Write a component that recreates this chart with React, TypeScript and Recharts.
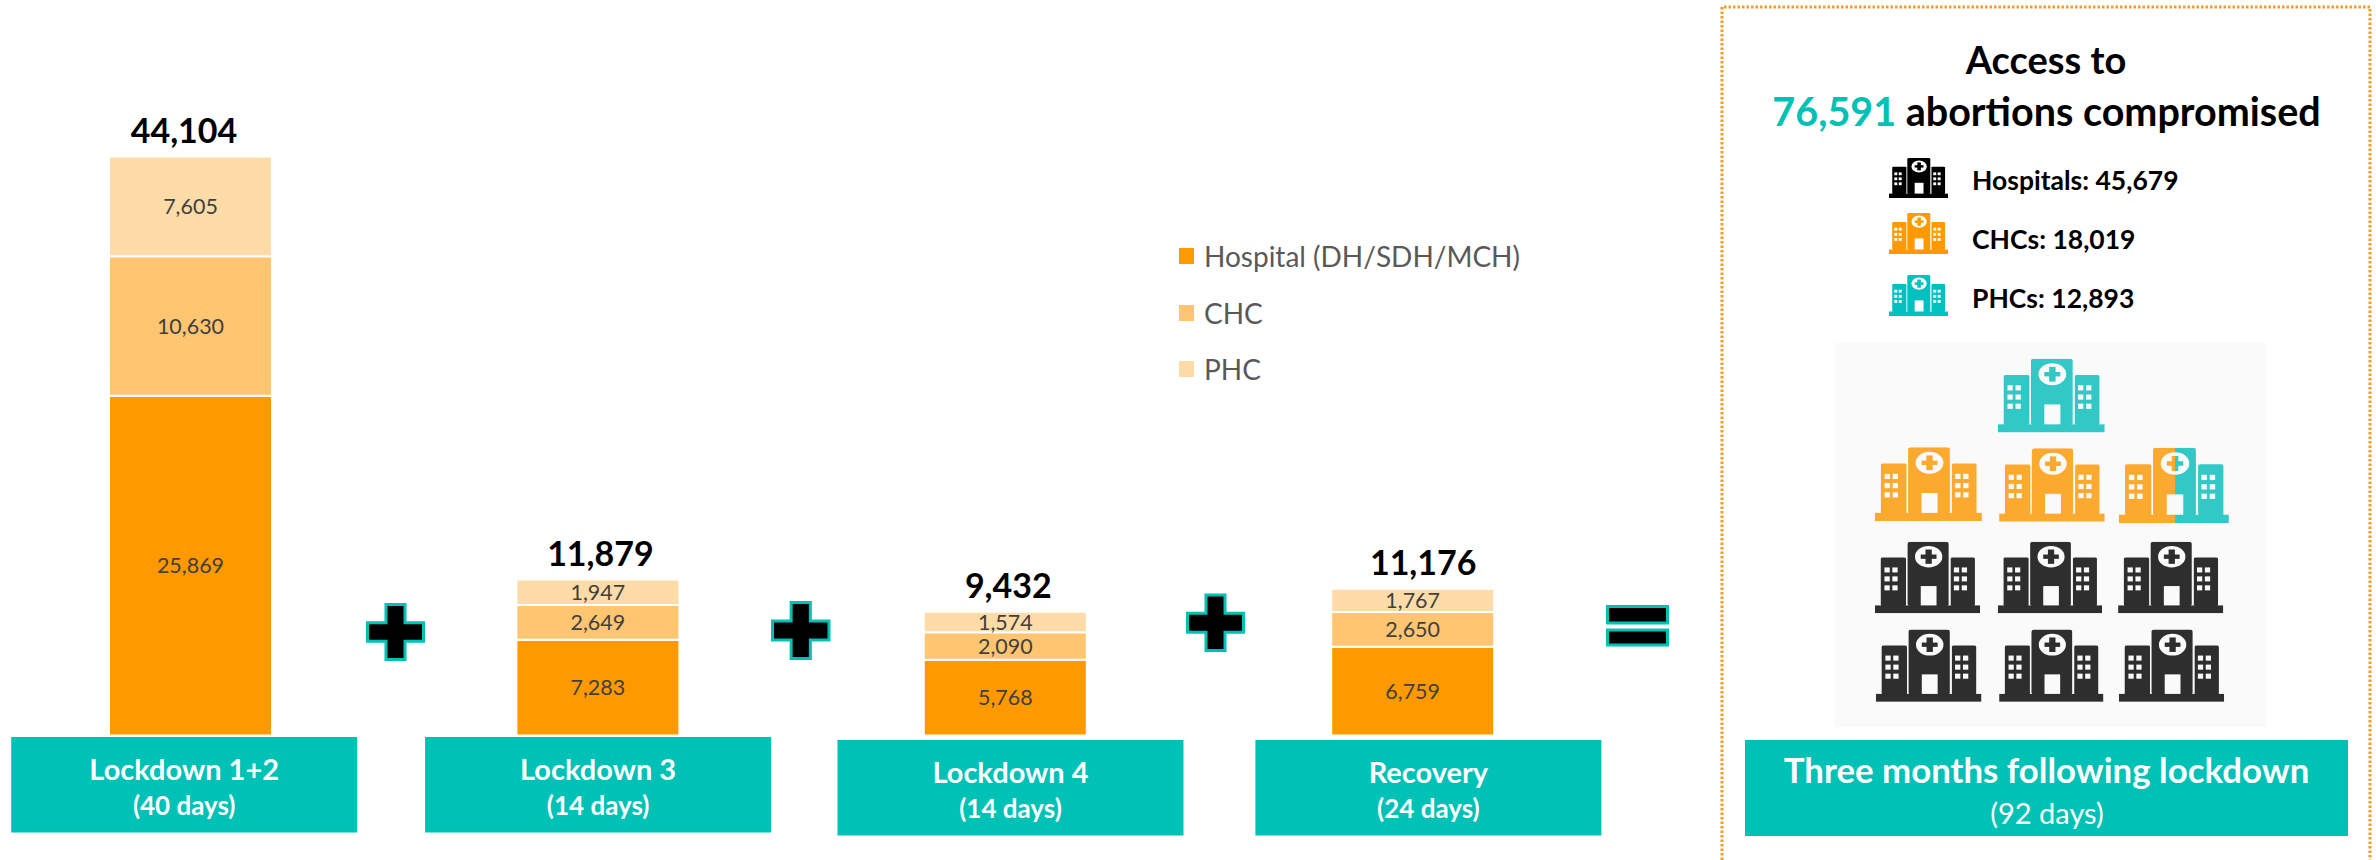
import React from "react";
import { BarChart, Bar, XAxis, YAxis, LabelList, Legend } from "recharts";

const FONT = "Lato, 'Open Sans', sans-serif";

// ---- data ----
const categories = ["Lockdown 1+2", "Lockdown 3", "Lockdown 4", "Recovery"];
const durations = ["(40 days)", "(14 days)", "(14 days)", "(24 days)"];
const hospitalValues = [25869, 7283, 5768, 6759];
const chcValues = [10630, 2649, 2090, 2650];
const phcValues = [7605, 1947, 1574, 1767];
const totals = [44104, 11879, 9432, 11176];
const seriesNames = ["Hospital (DH/SDH/MCH)", "CHC", "PHC"];
const facilityRows = ["Hospitals: 45,679", "CHCs: 18,019", "PHCs: 12,893"];

const chartData = categories.map((name, i) => ({
  name,
  duration: durations[i],
  hospital: hospitalValues[i],
  chc: chcValues[i],
  phc: phcValues[i],
  total: totals[i],
}));

// ---- colours ----
const ORANGE = "#FF9900";
const ORANGE_MID = "#FFC570";
const ORANGE_LIGHT = "#FFDBA8";
const TEAL = "#00C1B5";
const seriesColors = [ORANGE, ORANGE_MID, ORANGE_LIGHT];

// ---- layout ----
const CHART_LEFT = -13.2;
const BAND = 407.4;
const PLOT_BOTTOM = 735.5;
const boxOffsets = [-6.5, 0, 5, 15.5];
const boxTops = [737, 737, 740, 740];
const totalOffsets = [-6.5, 2.5, 3, 10.5];

const fmt = (v: number) => v.toLocaleString("en-US");

function CategoryTick(props: any) {
  const { x, payload, index } = props;
  const cx = x + boxOffsets[index];
  const top = boxTops[index];
  return (
    <g>
      <rect x={cx - 173} y={top} width={346} height={95.5} fill={TEAL} />
      <text x={cx} y={top + 32} textAnchor="middle" dominantBaseline="central" fill="#fff" fontFamily={FONT} fontWeight={700} fontSize={29}>
        {payload.value}
      </text>
      <text x={cx} y={top + 68} textAnchor="middle" dominantBaseline="central" fill="#fff" fontFamily={FONT} fontWeight={700} fontSize={26}>
        {durations[index]}
      </text>
    </g>
  );
}

function TotalLabel(props: any) {
  const { x, y, width, value, index } = props;
  return (
    <text x={x + width / 2 + totalOffsets[index]} y={y - 27} textAnchor="middle" dominantBaseline="central" fill="#000" fontFamily={FONT} fontWeight={700} fontSize={34}>
      {fmt(value)}
    </text>
  );
}

function LegendContent(props: any) {
  const items = seriesNames.map((n) => props.payload.find((p: any) => p.value === n)).filter(Boolean);
  return (
    <div style={{ fontFamily: FONT }}>
      {items.map((p: any) => (
        <div key={p.value} style={{ display: "flex", alignItems: "center", height: 56.5, color: "#595959", fontSize: 28, whiteSpace: "nowrap" }}>
          <span style={{ width: 15, height: 16, background: p.color, marginRight: 10, display: "inline-block" }} />
          {p.value}
        </div>
      ))}
    </div>
  );
}

let clipCounter = 0;
function Building({ x, y, w, h, color, hole = "#fff", split }: any) {
  const win: React.ReactNode[] = [];
  [9, 75].forEach((wx) => {
    [0, 1].forEach((c) => {
      [0, 1, 2].forEach((r) => {
        win.push(<rect key={`${wx}${c}${r}`} x={wx + c * 7.5} y={36 + r * 12.5} width={5} height={7} fill={hole} />);
      });
    });
  });
  const art = (col: string) => (
    <>
      <rect x={0} y={89} width={100} height={11} fill={col} />
      <rect x={5.5} y={22} width={24} height={68} rx={2} fill={col} />
      <rect x={31} y={0} width={39} height={90} rx={3} fill={col} />
      <rect x={72} y={22} width={23} height={68} rx={2} fill={col} />
      {win}
      <rect x={43.5} y={62} width={15} height={27} fill={hole} />
      <ellipse cx={51} cy={21} rx={13} ry={15} fill={hole} />
      <rect x={48} y={11} width={6} height={20} fill={col} />
      <rect x={43.5} y={18} width={15} height={6} fill={col} />
    </>
  );
  const id = `clip${clipCounter++}`;
  return (
    <svg x={x} y={y} width={w} height={h} viewBox="0 0 100 100" preserveAspectRatio="none">
      {split ? (
        <>
          <clipPath id={id}>
            <rect x={0} y={0} width={51} height={100} />
          </clipPath>
          <clipPath id={id + "b"}>
            <rect x={51} y={0} width={49} height={100} />
          </clipPath>
          <g clipPath={`url(#${id})`}>{art(color)}</g>
          <g clipPath={`url(#${id}b)`}>{art(split)}</g>
        </>
      ) : (
        art(color)
      )}
    </svg>
  );
}

function Plus({ x0, x1, y0, y1 }: any) {
  const w = x1 - x0;
  const h = y1 - y0;
  const a = w * 0.34;
  const b = h * 0.34;
  const cx = (x0 + x1) / 2;
  const cy = (y0 + y1) / 2;
  const d = `M${cx - a / 2} ${y0}H${cx + a / 2}V${cy - b / 2}H${x1}V${cy + b / 2}H${cx + a / 2}V${y1}H${cx - a / 2}V${cy + b / 2}H${x0}V${cy - b / 2}H${cx - a / 2}Z`;
  return <path d={d} fill="#000" stroke={TEAL} strokeWidth={3} />;
}

const GX = (v: number) => 1700 + v / 2.32;
const GY = (v: number) => 330 + v / 2.958;
const G = (x0: number, x1: number, y0: number, y1: number) => ({ x: GX(x0), y: GY(y0), w: (x1 - x0) / 2.32, h: (y1 - y0) / 2.958 });

const GRID_TEAL = "#32C8C6";
const GRID_ORANGE = "#FBA92F";
const GRID_DARK = "#2E2E2E";

function Overlay() {
  return (
    <svg width={2376} height={860} style={{ position: "absolute", left: 0, top: 0 }}>
      <path d="M1722 860V7H2370V860" fill="none" stroke="#F59B23" strokeWidth={3} strokeDasharray="2.5 2" />
      <Plus x0={367.5} x1={423.5} y0={604.5} y1={659.5} />
      <Plus x0={772.5} x1={829} y0={602.5} y1={658.5} />
      <Plus x0={1187.5} x1={1243.5} y0={595} y1={650.5} />
      <rect x={1607.5} y={606.5} width={60} height={16.5} fill="#000" stroke={TEAL} strokeWidth={3} />
      <rect x={1607.5} y={630} width={60} height={15} fill="#000" stroke={TEAL} strokeWidth={3} />

      <text x={2046} y={59} textAnchor="middle" dominantBaseline="central" fontFamily={FONT} fontWeight={700} fontSize={38} fill="#000">Access to</text>
      <text x={2046.5} y={110} textAnchor="middle" dominantBaseline="central" fontFamily={FONT} fontWeight={700} fontSize={39.5} fill="#000">
        <tspan fill={TEAL}>76,591</tspan> abortions compromised
      </text>

      <Building x={1889} y={158} w={59} h={40} color="#000" />
      <Building x={1889} y={213} w={59} h={41} color={ORANGE} />
      <Building x={1889} y={275} w={59} h={41} color="#00C1BF" />
      {facilityRows.map((t, i) => (
        <text key={t} x={1972} y={[180, 239, 298][i]} dominantBaseline="central" fontFamily={FONT} fontWeight={700} fontSize={26.5} fill="#000">{t}</text>
      ))}

      <rect x={1834} y={343} width={433} height={384} fill="#FAFAFA" />
      <Building {...G(691, 939, 85, 303)} color={GRID_TEAL} hole="#FAFAFA" />
      <Building {...G(406, 654, 347, 565)} color={GRID_ORANGE} hole="#FAFAFA" />
      <Building {...G(694, 939, 350, 567)} color={GRID_ORANGE} hole="#FAFAFA" />
      <Building {...G(972, 1227, 348, 571)} color={GRID_ORANGE} split={GRID_TEAL} hole="#FAFAFA" />
      <Building {...G(406, 650, 626, 838)} color={GRID_DARK} hole="#FAFAFA" />
      <Building {...G(691, 933, 626, 838)} color={GRID_DARK} hole="#FAFAFA" />
      <Building {...G(970, 1214, 626, 838)} color={GRID_DARK} hole="#FAFAFA" />
      <Building {...G(408, 653, 886, 1100)} color={GRID_DARK} hole="#FAFAFA" />
      <Building {...G(694, 936, 886, 1100)} color={GRID_DARK} hole="#FAFAFA" />
      <Building {...G(972, 1216, 886, 1100)} color={GRID_DARK} hole="#FAFAFA" />

      <rect x={1745} y={740} width={603} height={96} fill={TEAL} />
      <text x={2046.5} y={769.5} textAnchor="middle" dominantBaseline="central" fontFamily={FONT} fontWeight={700} fontSize={34.8} fill="#fff">Three months following lockdown</text>
      <text x={2047} y={812} textAnchor="middle" dominantBaseline="central" fontFamily={FONT} fontWeight={400} fontSize={29} fill="#fff">(92 days)</text>
    </svg>
  );
}

export default function App() {
  clipCounter = 0;
  return (
    <div style={{ position: "absolute", left: 0, top: 0, width: 2376, height: 860, overflow: "hidden", background: "#fff" }}>
      <Overlay />
      <div style={{ position: "absolute", left: CHART_LEFT, top: 0 }}>
        <BarChart width={BAND * 4} height={860} data={chartData} margin={{ top: 79, right: 0, bottom: 0, left: 0 }} barCategoryGap={0}>
          <XAxis dataKey="name" height={860 - PLOT_BOTTOM} axisLine={false} tickLine={false} interval={0} tick={<CategoryTick />} />
          <YAxis hide domain={[0, 50000]} />
          <Legend
            layout="vertical"
            align="center"
            verticalAlign="middle"
            wrapperStyle={{ left: 1179 - CHART_LEFT, top: 228, width: 400 }}
            content={<LegendContent />}
          />
          <Bar dataKey="hospital" name={seriesNames[0]} stackId="a" fill={seriesColors[0]} stroke="#fff" strokeWidth={2} barSize={163} isAnimationActive={false}>
            <LabelList dataKey="hospital" position="center" formatter={fmt} fill="#404040" fontFamily={FONT} fontSize={21.5} />
          </Bar>
          <Bar dataKey="chc" name={seriesNames[1]} stackId="a" fill={seriesColors[1]} stroke="#fff" strokeWidth={2} barSize={163} isAnimationActive={false}>
            <LabelList dataKey="chc" position="center" formatter={fmt} fill="#404040" fontFamily={FONT} fontSize={21.5} />
          </Bar>
          <Bar dataKey="phc" name={seriesNames[2]} stackId="a" fill={seriesColors[2]} stroke="#fff" strokeWidth={2} barSize={163} isAnimationActive={false}>
            <LabelList dataKey="phc" position="center" formatter={fmt} fill="#404040" fontFamily={FONT} fontSize={21.5} />
            <LabelList dataKey="total" content={<TotalLabel />} />
          </Bar>
        </BarChart>
      </div>
    </div>
  );
}
